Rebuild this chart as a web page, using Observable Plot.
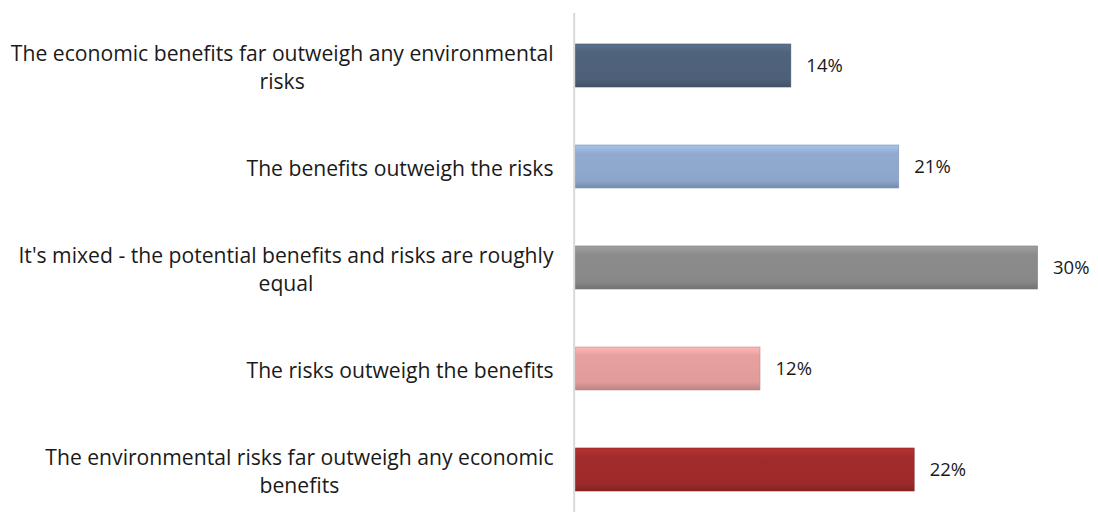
<!DOCTYPE html>
<html>
<head>
<meta charset="utf-8">
<script src="https://cdn.jsdelivr.net/npm/d3@7"></script>
<script src="https://cdn.jsdelivr.net/npm/@observablehq/plot@0.6"></script>
<style>
  html, body { margin: 0; padding: 0; background: #fff; }
  #chart svg { display: block; }
</style>
</head>
<body>
<div id="chart"></div>
<script>
const categories = [
  "The economic benefits far outweigh any environmental risks",
  "The benefits outweigh the risks",
  "It's mixed - the potential benefits and risks are roughly equal",
  "The risks outweigh the benefits",
  "The environmental risks far outweigh any economic benefits"
];
const labelLines = [
  ["The economic benefits far outweigh any environmental", "risks"],
  ["The benefits outweigh the risks"],
  ["It's mixed - the potential benefits and risks are roughly", "equal"],
  ["The risks outweigh the benefits"],
  ["The environmental risks far outweigh any economic", "benefits"]
];
const values = [14, 21, 30, 12, 22];
const baseColors = ["#4f627b", "#8fa9ce", "#8a8a8a", "#e49e9e", "#a02b2b"];

const data = categories.map((c, i) => ({category: c, value: values[i], idx: i}));

const FONT = "Open Sans";
const W = 1098, H = 512, ML = 575, MR = 60.5;
const labelRight = 553;

const ctx = document.createElement("canvas").getContext("2d");
ctx.font = `20px "${FONT}"`;
// size category text so the longest line spans the same width as in the reference
const FS = Math.min(21.5, 20 * 543 / ctx.measureText(labelLines[0][0]).width);
const FSV = 18.5;
ctx.font = `${FS}px "${FONT}"`;

const labelMarks = labelLines.map((lines, i) => {
  const wMax = Math.max(...lines.map(l => ctx.measureText(l).width));
  const center = labelRight - wMax / 2;
  return Plot.text([categories[i]], {
    y: d => d,
    text: () => lines.join("\n"),
    frameAnchor: "left",
    dx: center - ML,
    textAnchor: "middle",
    lineHeight: 27.5 / FS,
    fill: "#1a1a1a",
    fontSize: FS
  });
});

const svg = Plot.plot({
  width: W,
  height: H,
  marginLeft: ML,
  marginRight: MR,
  marginTop: 13,
  marginBottom: 0,
  style: {fontFamily: FONT, fontSize: FS + "px", background: "#fff"},
  x: {domain: [0, 30], axis: null},
  y: {domain: categories, axis: null, paddingInner: 0.575, paddingOuter: 0.2516, align: 0.589},
  color: {type: "identity"},
  marks: [
    Plot.barX(data, {
      x: "value",
      y: "category",
      fill: d => `url(#bargrad${d.idx})`,
      stroke: d => d3.color(baseColors[d.idx]).darker(0.4).formatHex(),
      strokeWidth: 0.6
    }),
    Plot.ruleX([0], {stroke: "#d9d9d9", strokeWidth: 2, dx: -1.3}),
    Plot.text(data, {
      x: "value",
      y: "category",
      text: d => d.value + "%",
      dx: 15,
      textAnchor: "start",
      fill: "#1a1a1a",
      fontSize: FSV
    }),
    ...labelMarks
  ]
});

const defs = d3.select(svg).insert("defs", ":first-child");
baseColors.forEach((c, i) => {
  const base = d3.color(c);
  const g = defs.append("linearGradient")
    .attr("id", `bargrad${i}`)
    .attr("x1", 0).attr("y1", 0).attr("x2", 0).attr("y2", 1);
  const stops = [
    [0, base.brighter(0.4)],
    [0.12, base.brighter(0.2)],
    [0.2, base.brighter(0.03)],
    [0.5, base],
    [0.82, base.darker(0.05)],
    [0.92, base.darker(0.3)],
    [1, base.darker(0.55)]
  ];
  stops.forEach(([o, col]) => g.append("stop").attr("offset", o).attr("stop-color", col.formatHex()));
});

document.getElementById("chart").appendChild(svg);
</script>
</body>
</html>
